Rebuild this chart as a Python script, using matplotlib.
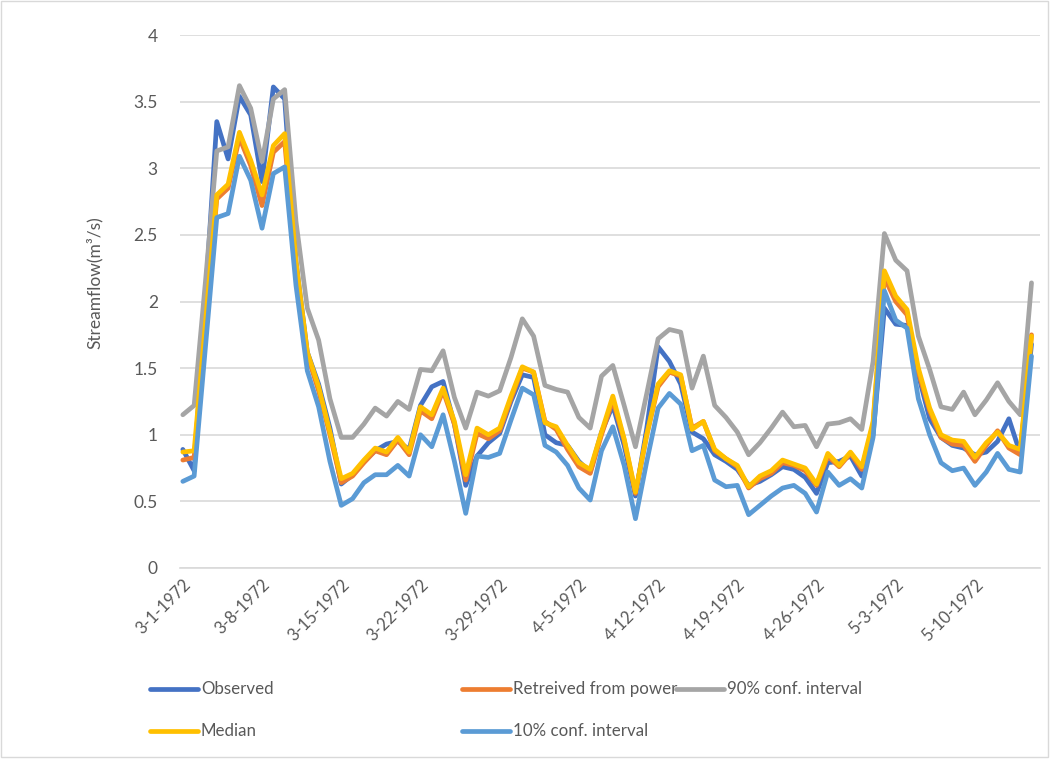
import matplotlib
matplotlib.use("Agg")
import matplotlib.pyplot as plt
from matplotlib.lines import Line2D
from matplotlib.patches import Rectangle
import numpy as np

# Daily streamflow, 1 March - 15 May 1972 (m3/s)
observed = [0.89, 0.73, 2.03, 3.35, 3.07, 3.54, 3.40, 2.90, 3.61, 3.52,
            2.30, 1.62, 1.38, 1.05, 0.63, 0.70, 0.80, 0.88, 0.93, 0.95,
            0.89, 1.22, 1.36, 1.40, 1.08, 0.62, 0.84, 0.94, 1.01, 1.25,
            1.45, 1.43, 1.00, 0.94, 0.92, 0.80, 0.72, 1.02, 1.22, 0.92,
            0.54, 1.05, 1.66, 1.55, 1.38, 1.02, 0.97, 0.85, 0.80, 0.74,
            0.62, 0.65, 0.70, 0.76, 0.74, 0.68, 0.56, 0.79, 0.80, 0.84,
            0.69, 1.00, 1.95, 1.83, 1.82, 1.45, 1.12, 0.98, 0.92, 0.90,
            0.85, 0.87, 0.95, 1.12, 0.86, 1.68]

retrieved = [0.81, 0.83, 1.80, 2.77, 2.85, 3.23, 3.02, 2.72, 3.12, 3.20,
             2.25, 1.60, 1.33, 1.00, 0.64, 0.69, 0.79, 0.88, 0.85, 0.96,
             0.85, 1.18, 1.12, 1.33, 1.08, 0.66, 1.01, 0.97, 1.03, 1.27,
             1.50, 1.47, 1.10, 1.04, 0.89, 0.76, 0.71, 1.00, 1.26, 0.96,
             0.56, 1.00, 1.36, 1.47, 1.44, 1.05, 1.10, 0.88, 0.82, 0.76,
             0.60, 0.67, 0.71, 0.79, 0.77, 0.73, 0.62, 0.84, 0.76, 0.86,
             0.74, 1.08, 2.18, 2.00, 1.90, 1.47, 1.18, 0.98, 0.93, 0.92,
             0.80, 0.92, 1.03, 0.90, 0.85, 1.75]

upper90 = [1.15, 1.22, 2.15, 3.13, 3.16, 3.62, 3.45, 3.05, 3.52, 3.59,
           2.60, 1.95, 1.71, 1.27, 0.98, 0.98, 1.08, 1.20, 1.14, 1.25,
           1.19, 1.49, 1.48, 1.63, 1.28, 1.05, 1.32, 1.29, 1.33, 1.58,
           1.87, 1.74, 1.37, 1.34, 1.32, 1.13, 1.05, 1.44, 1.52, 1.22,
           0.91, 1.31, 1.72, 1.79, 1.77, 1.35, 1.59, 1.22, 1.13, 1.02,
           0.85, 0.94, 1.05, 1.17, 1.06, 1.07, 0.91, 1.08, 1.09, 1.12,
           1.04, 1.55, 2.51, 2.31, 2.23, 1.74, 1.49, 1.21, 1.19, 1.32,
           1.15, 1.26, 1.39, 1.25, 1.15, 2.14]

median = [0.87, 0.88, 1.84, 2.80, 2.88, 3.27, 3.06, 2.80, 3.17, 3.26,
          2.30, 1.62, 1.36, 1.02, 0.67, 0.71, 0.81, 0.90, 0.87, 0.98,
          0.87, 1.21, 1.15, 1.35, 1.10, 0.70, 1.05, 1.00, 1.05, 1.29,
          1.51, 1.47, 1.09, 1.06, 0.92, 0.79, 0.74, 1.02, 1.29, 0.97,
          0.57, 1.00, 1.38, 1.48, 1.45, 1.04, 1.10, 0.89, 0.82, 0.77,
          0.61, 0.69, 0.73, 0.81, 0.78, 0.75, 0.63, 0.86, 0.77, 0.87,
          0.76, 1.10, 2.23, 2.04, 1.94, 1.50, 1.20, 1.00, 0.96, 0.95,
          0.83, 0.94, 1.02, 0.92, 0.89, 1.74]

lower10 = [0.65, 0.69, 1.66, 2.63, 2.66, 3.09, 2.91, 2.55, 2.96, 3.01,
           2.12, 1.48, 1.21, 0.80, 0.47, 0.52, 0.64, 0.70, 0.70, 0.77,
           0.69, 1.00, 0.91, 1.15, 0.80, 0.41, 0.84, 0.83, 0.86, 1.11,
           1.35, 1.30, 0.92, 0.87, 0.77, 0.60, 0.51, 0.88, 1.06, 0.77,
           0.37, 0.80, 1.20, 1.31, 1.23, 0.88, 0.92, 0.66, 0.61, 0.62,
           0.40, 0.47, 0.54, 0.60, 0.62, 0.56, 0.42, 0.72, 0.62, 0.67,
           0.60, 0.98, 2.08, 1.86, 1.80, 1.27, 1.00, 0.79, 0.73, 0.75,
           0.62, 0.72, 0.86, 0.74, 0.72, 1.59]

tick_labels = ["3-1-1972", "3-8-1972", "3-15-1972", "3-22-1972", "3-29-1972",
               "4-5-1972", "4-12-1972", "4-19-1972", "4-26-1972", "5-3-1972",
               "5-10-1972"]

series = [
    ("Observed", observed, "#4472C4"),
    ("Retreived from power", retrieved, "#ED7D31"),
    ("90% conf. interval", upper90, "#A5A5A5"),
    ("Median", median, "#FFC000"),
    ("10% conf. interval", lower10, "#5B9BD5"),
]

W, H = 1062, 763
TXT = "#595959"
GRID = "#D9D9D9"
FONT = "Lato"
LW = 3.4

fig = plt.figure(figsize=(W / 100, H / 100), dpi=100)
ax = fig.add_axes([180 / W, 1 - 568 / H, (1040 - 180) / W, (568 - 35) / H])

days = np.arange(len(observed))
lines = {}
for name, vals, col in series:
    (ln,) = ax.plot(days, vals, color=col, lw=LW, solid_joinstyle="round",
                    solid_capstyle="round")
    lines[name] = ln

ax.set_xlim(-0.25, 75.75)
ax.set_ylim(0, 4)
ax.set_yticks(np.arange(0, 4.01, 0.5))
ax.set_yticklabels(["0", "0.5", "1", "1.5", "2", "2.5", "3", "3.5", "4"],
                   fontsize=12.5, color=TXT, family=FONT)
ax.yaxis.grid(True, color=GRID, lw=1.2)
ax.set_axisbelow(True)
ax.tick_params(axis="y", length=0, pad=16)

ax.set_xticks(days[::7])
ax.set_xticklabels(tick_labels, rotation=45, ha="right", va="top",
                   rotation_mode="anchor", fontsize=12, color=TXT, family=FONT)
ax.tick_params(axis="x", length=0, pad=6)

for s in ["top", "right", "left"]:
    ax.spines[s].set_visible(False)
ax.spines["bottom"].set_color(GRID)
ax.spines["bottom"].set_linewidth(1.2)

fig.text(95 / W, 1 - 283 / H, "Streamflow(m³/s)", rotation=90, ha="center",
         va="center", fontsize=12.5, color=TXT, family=FONT)

# Legend laid out in two rows under the plot
legend_pos = [
    ("Observed", 150, 689),
    ("Retreived from power", 462, 689),
    ("90% conf. interval", 676, 689),
    ("Median", 150, 731),
    ("10% conf. interval", 462, 731),
]
for name, xp, yp in legend_pos:
    col = lines[name].get_color()
    fig.add_artist(Line2D([xp / W, (xp + 48) / W], [1 - yp / H, 1 - yp / H],
                          transform=fig.transFigure, color=col, lw=LW,
                          solid_capstyle="round"))
    fig.text((xp + 51) / W, 1 - yp / H, name, ha="left", va="center",
             fontsize=12.2, color=TXT, family=FONT)

# Chart frame
fig.add_artist(Rectangle((0.5 / W, 1 - 757 / H), 1047 / W, 756 / H,
                         transform=fig.transFigure, fill=False,
                         edgecolor=GRID, lw=1.0))

fig.savefig("out.png", dpi=100)
